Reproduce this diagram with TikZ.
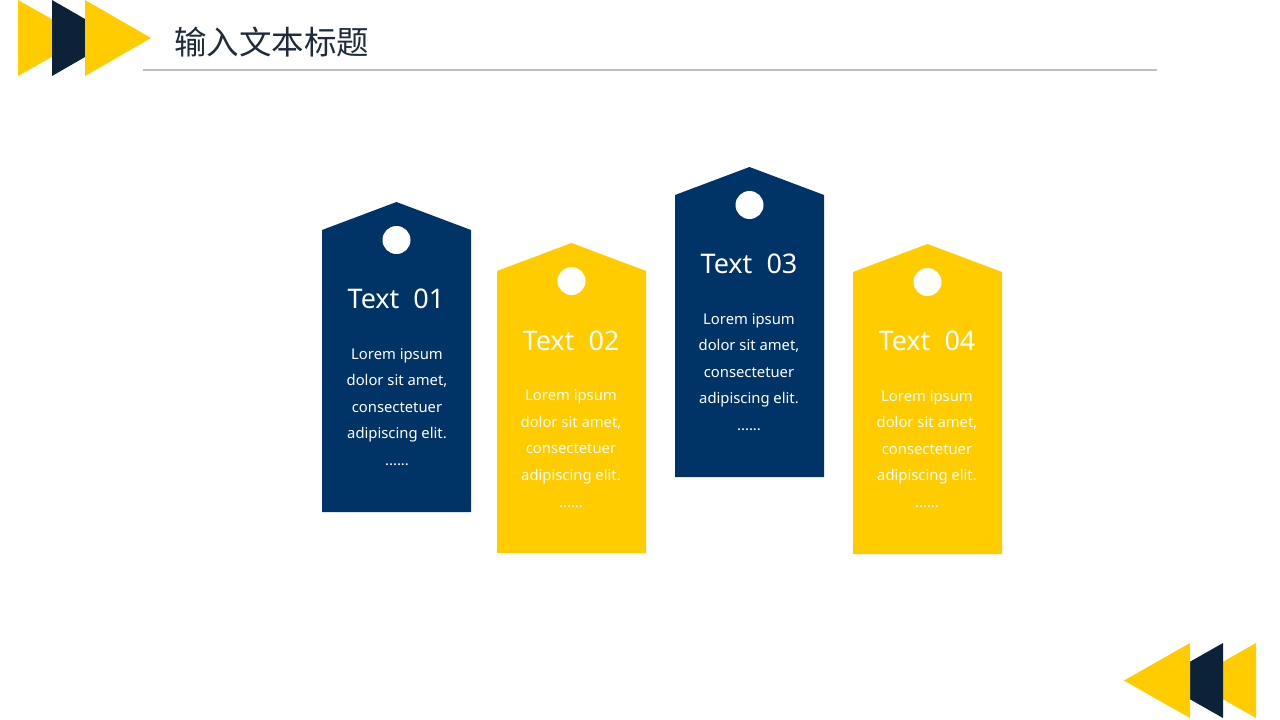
\documentclass[tikz,border=0pt]{standalone}
\usepackage{fontspec}
\setmainfont{Noto Sans}
\newfontfamily\cjk{Noto Sans CJK SC}
\definecolor{navy}{HTML}{003366}
\definecolor{darknavy}{HTML}{0B2239}
\definecolor{gold}{HTML}{FFCC00}
\definecolor{rule}{HTML}{BFBFBF}
\definecolor{titlecol}{HTML}{1E2B3A}
\tikzset{
  tagtitle/.style={text=white, font=\fontsize{27}{32}\selectfont, inner sep=0pt},
  tagbody/.style={text=white, font=\fontsize{14.8}{26.6}\selectfont, align=center, inner sep=0pt},
  hole/.style={fill=white, draw=none}
}
% #1 left x, #2 peak y, #3 bottom y, #4 colour, #5 name
\newcommand{\mytag}[5]{%
  \fill[#4] (#1,#3) -- (#1,#2+28) -- (#1+74.5,#2) -- (#1+149,#2+28) -- (#1+149,#3) -- cycle;
  \node[hole, circle, minimum size=28pt, inner sep=0pt] (#5hole) at (#1+74.5,#2+38) {};
}
\begin{document}
\begin{tikzpicture}[x=1pt,y=-1pt]
\useasboundingbox (0,0) rectangle (1280,720);
% top-left arrows
\fill[gold] (18,0) -- (18,76) -- (85,38) -- cycle;
\fill[darknavy] (52,0) -- (52,76) -- (118,38) -- cycle;
\fill[gold] (85,0) -- (85,76) -- (151,38) -- cycle;
% bottom-right arrows
\fill[gold] (1256,643) -- (1256,718) -- (1190,680.5) -- cycle;
\fill[darknavy] (1223,643) -- (1223,718) -- (1157,680.5) -- cycle;
\fill[gold] (1190,643) -- (1190,718) -- (1124,680.5) -- cycle;
% title
\node[anchor=west, text=titlecol, font=\cjk\fontsize{32.5}{38}\selectfont, inner sep=0pt] (title) at (174,42) {输入文本标题};
\draw[rule, line width=2.5pt] (143,70) -- (1157,70);
% tags
\mytag{322}{202}{512}{navy}{a}
\mytag{497}{243}{553}{gold}{b}
\mytag{675}{167}{477}{navy}{c}
\mytag{853}{244}{554}{gold}{d}
% texts
\node[tagtitle] (at) at (396,299) {Text\ \ 01};
\node[tagbody] (ab) at (397,407) {Lorem ipsum\\dolor sit amet,\\consectetuer\\adipiscing elit.\\......};
\node[tagtitle] (bt) at (571,341) {Text\ \ 02};
\node[tagbody] (bb) at (571,448.5) {Lorem ipsum\\dolor sit amet,\\consectetuer\\adipiscing elit.\\......};
\node[tagtitle] (ct) at (749,264) {Text\ \ 03};
\node[tagbody] (cb) at (749,372) {Lorem ipsum\\dolor sit amet,\\consectetuer\\adipiscing elit.\\......};
\node[tagtitle] (dt) at (927,341) {Text\ \ 04};
\node[tagbody] (db) at (927,449) {Lorem ipsum\\dolor sit amet,\\consectetuer\\adipiscing elit.\\......};
\end{tikzpicture}
\end{document}
